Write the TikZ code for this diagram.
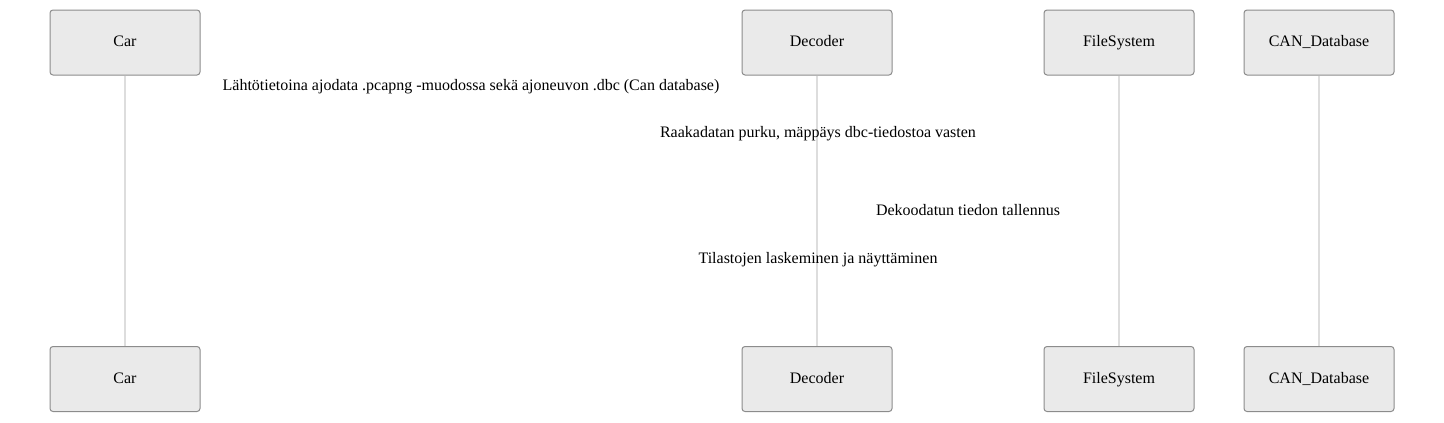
\documentclass[tikz,border=0pt]{standalone}
\usepackage{fontspec}
\setmainfont{Liberation Serif}
\usepackage{tikz}

\definecolor{actorfill}{HTML}{EAEAEA}
\definecolor{actorline}{HTML}{8C8C8C}
\definecolor{lifeline}{HTML}{DDDDDD}

\tikzset{
	actor/.style={draw=actorline, line width=1pt, fill=actorfill, rounded corners=3pt, minimum width=150pt, minimum height=65pt, inner sep=0pt, text height=11pt, text depth=3pt, font=\fontsize{16}{19}\selectfont},
	msg/.style={inner sep=0pt, text height=11pt, text depth=3pt, font=\fontsize{16}{19}\selectfont},
	life/.style={draw=lifeline, line width=1.5pt}
}

\begin{document}
\begin{tikzpicture}[x=1pt,y=-1pt]
	\useasboundingbox (0,0) rectangle (1444,423);
	\node[actor] (cartop) at (125,42.5) {Car};
	\node[actor] (dectop) at (817,42.5) {Decoder};
	\node[actor] (fstop) at (1119,42.5) {FileSystem};
	\node[actor] (dbtop) at (1319,42.5) {CAN\_Database};
	\node[actor] (carbot) at (125,379) {Car};
	\node[actor] (decbot) at (817,379) {Decoder};
	\node[actor] (fsbot) at (1119,379) {FileSystem};
	\node[actor] (dbbot) at (1319,379) {CAN\_Database};
	\draw[life] (cartop) -- (carbot);
	\draw[life] (dectop) -- (decbot);
	\draw[life] (fstop) -- (fsbot);
	\draw[life] (dbtop) -- (dbbot);
	\node[msg] (m1) at (471,86) {Lähtötietoina ajodata .pcapng -muodossa sekä ajoneuvon .dbc (Can database)};
	\node[msg] (m2) at (818,133) {Raakadatan purku, mäppäys dbc-tiedostoa vasten};
	\node[msg] (m3) at (968,211) {Dekoodatun tiedon tallennus};
	\node[msg] (m4) at (818,259) {Tilastojen laskeminen ja näyttäminen};
\end{tikzpicture}
\end{document}
